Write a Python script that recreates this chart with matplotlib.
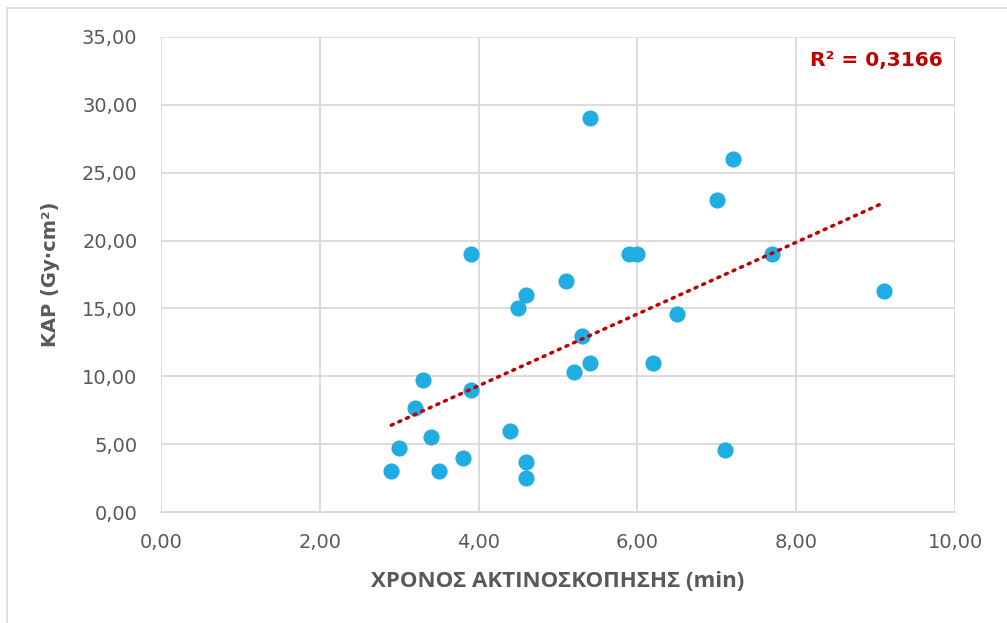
import numpy as np
import matplotlib.pyplot as plt
from matplotlib.patches import Rectangle
from matplotlib.ticker import FuncFormatter

# fluoroscopy time (min) vs KAP (Gy·cm²)
time_min = [2.9, 3.0, 3.2, 3.3, 3.4, 3.5, 3.8, 3.9, 3.9, 4.4, 4.5, 4.6, 4.6, 4.6,
            5.1, 5.2, 5.3, 5.4, 5.4, 5.9, 6.0, 6.2, 6.5, 7.0, 7.1, 7.2, 7.7, 9.1]
kap = [3.0, 4.7, 7.7, 9.7, 5.5, 3.0, 4.0, 9.0, 19.0, 6.0, 15.0, 16.0, 3.7, 2.5,
       17.0, 10.3, 13.0, 29.0, 11.0, 19.0, 19.0, 11.0, 14.6, 23.0, 4.6, 26.0, 19.0, 16.3]
r2_text = "R² = 0,3166"

grey = "#595959"

fig = plt.figure(figsize=(10.07, 6.23), dpi=100)
ax = fig.add_axes([161/1007, 1 - 512/623, (955-161)/1007, (512-37)/623])

x = np.array(time_min)
y = np.array(kap)
ax.scatter(x, y, s=135, color="#1fade2", zorder=3, linewidths=0)

# linear trendline
k, b = np.polyfit(x, y, 1)
xs = np.array([x.min(), x.max()])
ax.plot(xs, k*xs + b, color="#c00000", lw=2.5, linestyle=(0, (0.6, 1.8)),
        dash_capstyle="round", zorder=4)

ax.set_xlim(0, 10)
ax.set_ylim(0, 35)
ax.set_xticks(np.arange(0, 10.01, 2))
ax.set_yticks(np.arange(0, 35.01, 5))
fmt = FuncFormatter(lambda v, p: f"{v:.2f}".replace(".", ","))
ax.xaxis.set_major_formatter(fmt)
ax.yaxis.set_major_formatter(fmt)
ax.grid(True, color="#d9d9d9", lw=1.3)
ax.set_axisbelow(True)
for s in ["top", "right", "left"]:
    ax.spines[s].set_visible(False)
ax.spines["bottom"].set_color("#d9d9d9")
ax.spines["bottom"].set_linewidth(1.3)
ax.tick_params(axis="y", length=0, labelsize=14, labelcolor=grey, pad=17)
ax.tick_params(axis="x", length=0, labelsize=14, labelcolor=grey, pad=15)
for lab in ax.get_xticklabels() + ax.get_yticklabels():
    lab.set_fontfamily("DejaVu Sans")

ax.set_xlabel("ΧΡΟΝΟΣ ΑΚΤΙΝΟΣΚΟΠΗΣΗΣ (min)", fontsize=16, fontweight="bold",
              color=grey, family="Open Sans", labelpad=14)
ax.set_ylabel("KAP (Gy·cm²)", fontsize=14, fontweight="bold", color=grey,
              family="DejaVu Sans", labelpad=16)

ax.text(0.985, 0.95, r2_text, transform=ax.transAxes, ha="right", va="center",
        fontsize=14.5, fontweight="bold", color="#c00000", family="DejaVu Sans")

# chart area border
fig.patches.append(Rectangle((7/1007, -0.1), 1.1, 1 - 8/623 + 0.1,
                             transform=fig.transFigure, fill=False,
                             edgecolor="#d9d9d9", lw=1.2))

fig.savefig("out.png", dpi=100)
